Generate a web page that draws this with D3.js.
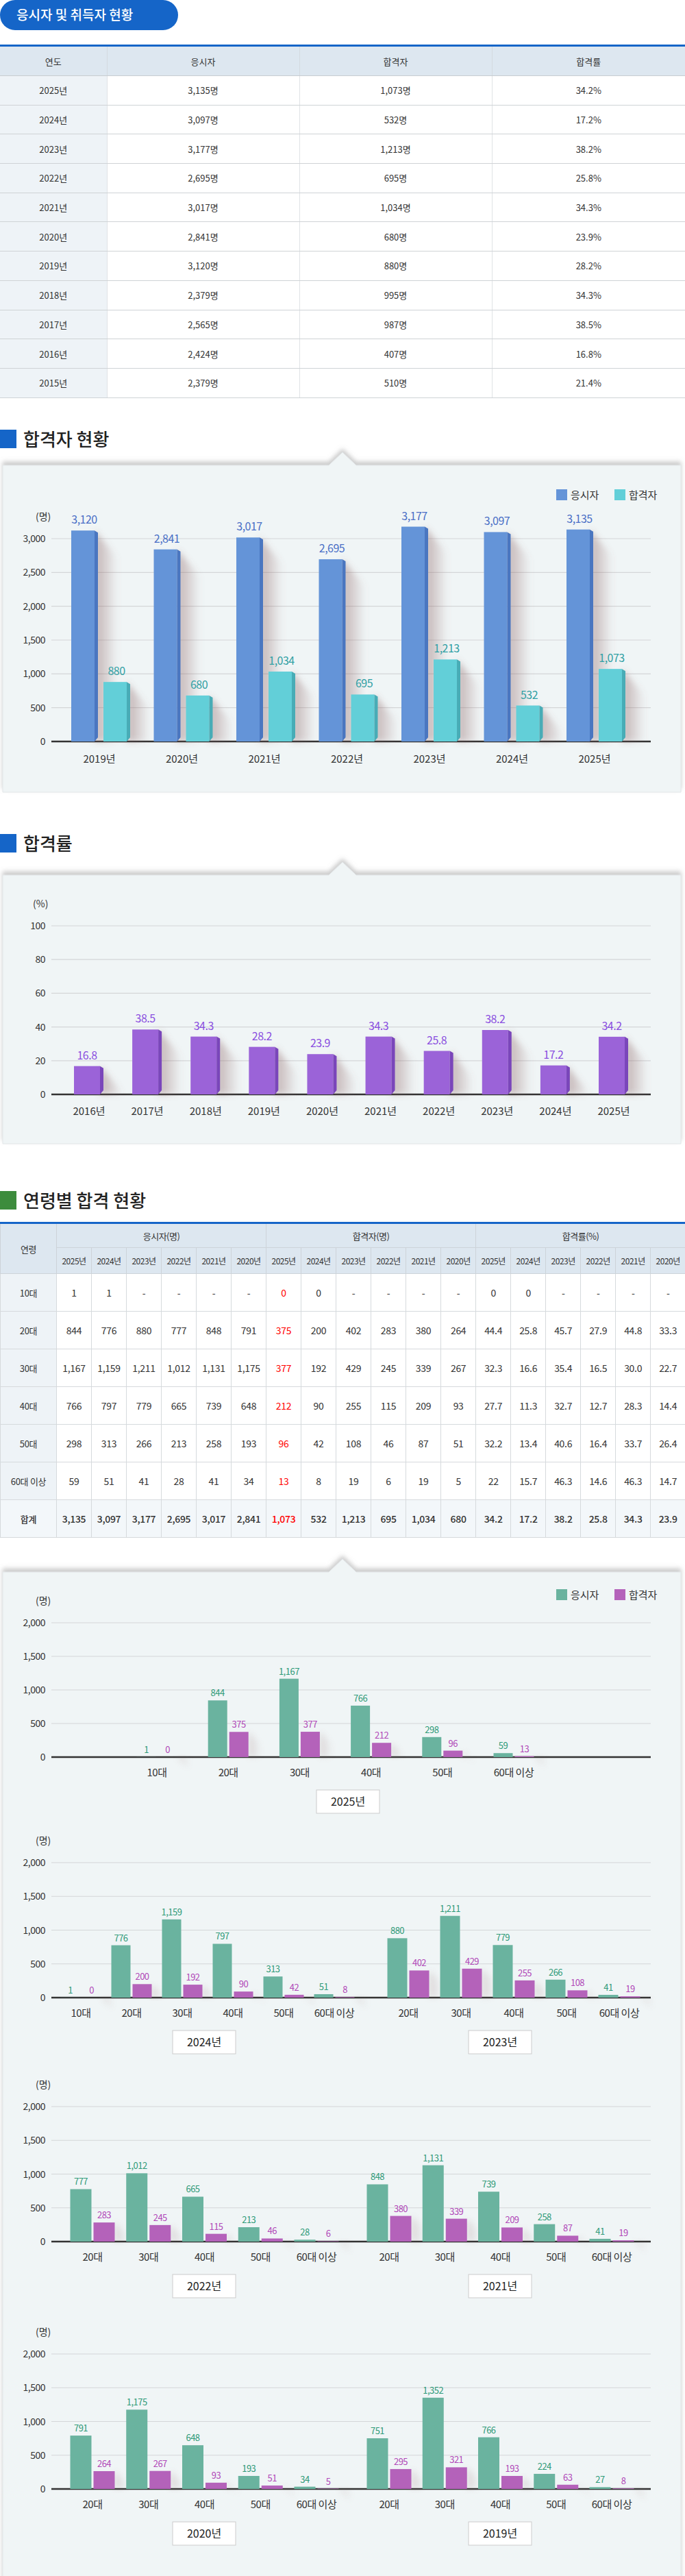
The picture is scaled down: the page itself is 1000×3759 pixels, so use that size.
<!DOCTYPE html>
<html><head><meta charset="utf-8">
<script src="https://cdn.jsdelivr.net/npm/d3@7/dist/d3.min.js"></script>
<style>
body{margin:0;background:#fff;font-family:"Noto Sans CJK KR","Noto Sans",sans-serif;}
#wrap{position:relative;width:1000px;height:3759px;overflow:hidden;}
svg{position:absolute;left:0;top:0;}
table{position:absolute;left:0;border-collapse:collapse;table-layout:fixed;color:#333;}
td,th{text-align:center;font-weight:400;padding:0;}
#t1{top:65px;width:1000px;border-top:3px solid #1565c8;}
#t1 th{background:#dde7f0;height:42px;font-size:13px;border-bottom:1px solid #c8ccd0;border-left:1px solid #d4dae0;}
#t1 td{height:41.7px;font-size:13px;border-bottom:1px solid #cfd3d6;border-left:1px solid #e0e3e6;}
#t1 td:first-child{background:#eef3f7;border-left:none}
#t1 th:first-child{border-left:none}
#t2{top:1783px;width:1000px;border-top:3px solid #1565c8;}
#t2 th{background:#dde7f0;font-size:12px;border:1px solid #cdd3d9;letter-spacing:-0.5px}
#t2 td{height:54px;font-size:14px;border:1px solid #d6dadd;letter-spacing:-0.3px}
#t2 td.age{background:#eef3f7;font-size:13px}
#t2 tr.tot td{background:#f3f7fa;font-weight:500}
#t2 td.red{color:#f00}
</style></head><body><div id="wrap"></div>
<script>
// ---------- DATA ----------
const t1Years=["2025년","2024년","2023년","2022년","2021년","2020년","2019년","2018년","2017년","2016년","2015년"];
const t1Appl=[3135,3097,3177,2695,3017,2841,3120,2379,2565,2424,2379];
const t1Pass=[1073,532,1213,695,1034,680,880,995,987,407,510];
const t1Rate=["34.2%","17.2%","38.2%","25.8%","34.3%","23.9%","28.2%","34.3%","38.5%","16.8%","21.4%"];

const c1Years=["2019년","2020년","2021년","2022년","2023년","2024년","2025년"];
const c1Appl=[3120,2841,3017,2695,3177,3097,3135];
const c1Pass=[880,680,1034,695,1213,532,1073];
const c1Ticks=[0,500,1000,1500,2000,2500,3000];

const rateYears=["2016년","2017년","2018년","2019년","2020년","2021년","2022년","2023년","2024년","2025년"];
const rateVals=[16.8,38.5,34.3,28.2,23.9,34.3,25.8,38.2,17.2,34.2];
const rateTicks=[0,20,40,60,80,100];

const ages=["10대","20대","30대","40대","50대","60대 이상"];
const ageYears=["2025년","2024년","2023년","2022년","2021년","2020년"];
const ageAppl=[[1,1,null,null,null,null],[844,776,880,777,848,791],[1167,1159,1211,1012,1131,1175],[766,797,779,665,739,648],[298,313,266,213,258,193],[59,51,41,28,41,34]];
const agePass=[[0,0,null,null,null,null],[375,200,402,283,380,264],[377,192,429,245,339,267],[212,90,255,115,209,93],[96,42,108,46,87,51],[13,8,19,6,19,5]];
const ageRate=[["0","0",null,null,null,null],["44.4","25.8","45.7","27.9","44.8","33.3"],["32.3","16.6","35.4","16.5","30.0","22.7"],["27.7","11.3","32.7","12.7","28.3","14.4"],["32.2","13.4","40.6","16.4","33.7","26.4"],["22","15.7","46.3","14.6","46.3","14.7"]];
const totAppl=[3135,3097,3177,2695,3017,2841];
const totPass=[1073,532,1213,695,1034,680];
const totRate=["34.2","17.2","38.2","25.8","34.3","23.9"];
const ages2019=["20대","30대","40대","50대","60대 이상"];
const appl2019=[751,1352,766,224,27];
const pass2019=[295,321,193,63,8];
const ageTicks=[0,500,1000,1500,2000];

const fmt=d3.format(",");
const wrap=d3.select("#wrap");
const svg=wrap.append("svg").attr("width",1000).attr("height",3759);
const defs=svg.append("defs");
const f=defs.append("filter").attr("id","ps").attr("x","-10%").attr("y","-50%").attr("width","120%").attr("height","200%");
f.append("feDropShadow").attr("dx",0).attr("dy",-5).attr("stdDeviation",3).attr("flood-color","#9a9a9a").attr("flood-opacity",0.5);
const bl=defs.append("filter").attr("id","bl").attr("x","-50%").attr("y","-20%").attr("width","200%").attr("height","140%");
bl.append("feGaussianBlur").attr("stdDeviation",5);
const lg=defs.append("linearGradient").attr("id","sg").attr("x1",0).attr("x2",1).attr("y1",0).attr("y2",0);
lg.append("stop").attr("offset",0).attr("stop-color","#8a6060").attr("stop-opacity",0.45);
lg.append("stop").attr("offset",1).attr("stop-color","#8a6060").attr("stop-opacity",0);

// ---------- Table 1 ----------
svg.append("rect").attr("x",0).attr("y",0).attr("width",260).attr("height",44).attr("rx",22).attr("fill","#1565c8");
svg.append("text").attr("x",24).attr("y",29).attr("fill","#fff").attr("font-size",19).attr("font-weight",500).text("응시자 및 취득자 현황");
const t1=wrap.append("table").attr("id","t1");
const cg=t1.append("colgroup");[156,281,281,282].forEach(w=>cg.append("col").style("width",w+"px"));
t1.append("tr").selectAll("th").data(["연도","응시자","합격자","합격률"]).join("th").text(d=>d);
t1Years.forEach((y,i)=>{const tr=t1.append("tr");
 [y,fmt(t1Appl[i])+"명",fmt(t1Pass[i])+"명",t1Rate[i]].forEach(v=>tr.append("td").text(v));});

// ---------- helpers ----------
function sectionTitle(y,text,color){
 svg.append("rect").attr("x",0).attr("y",y).attr("width",24).attr("height",27).attr("fill",color);
 svg.append("text").attr("x",34).attr("y",y+24).attr("font-size",26).attr("font-weight",500).attr("fill","#222").text(text);}
function panel(top,bottom){
 const p=`M4,${top} L480,${top} L500,${top-19} L520,${top} L994,${top} L994,${bottom} L4,${bottom} Z`;
 svg.append("path").attr("d",p).attr("fill","#f0f5f6").attr("stroke","#e2e6e8").attr("filter","url(#ps)");}
function yAxis(y,ticks,unit){
 const g=svg.append("g");
 ticks.forEach(t=>{
  g.append("line").attr("x1",75).attr("x2",950).attr("y1",y(t)).attr("y2",y(t)).attr("stroke",t===0?"#333":"#d4d6d8").attr("stroke-width",t===0?2.5:1.2);
  g.append("text").attr("x",66).attr("y",y(t)+5).attr("text-anchor","end").attr("font-size",14).attr("fill","#333").attr("letter-spacing","-0.5").text(fmt(t));});
 g.append("text").attr("x",unit==="(%)"?48:52).attr("y",y(ticks[ticks.length-1])-27).attr("font-size",14).attr("fill","#333").text(unit);}
function bar3d(g,x,w,yt,yb,front,side){
 if(yb-yt<1)return;
 g.append("path").attr("d",`M${x+w},${yt} L${x+w+34},${yt+40} L${x+w+34},${yb} L${x+w},${yb}Z`).attr("fill","url(#sg)").attr("filter","url(#bl)");
 g.append("rect").attr("x",x).attr("y",yt).attr("width",w).attr("height",yb-yt).attr("fill",front);
 g.append("path").attr("d",`M${x+w},${yt} L${x+w+5},${yt+3} L${x+w+5},${yb-6} L${x+w},${yb}Z`).attr("fill",side);}
function legend(y,c1,c2){
 [[812,c1,"응시자"],[897,c2,"합격자"]].forEach(([x,c,t])=>{
  svg.append("rect").attr("x",x).attr("y",y-8).attr("width",16).attr("height",16).attr("fill",c);
  svg.append("text").attr("x",x+21).attr("y",y+6).attr("font-size",15).attr("fill","#333").text(t);});}

// ---------- Chart 1 ----------
sectionTitle(627,"합격자 현황","#1565c8");
panel(679,1156);
legend(722,"#6494d8","#62cfd8");
{const y=d3.scaleLinear().domain([0,3000]).range([1082,786]);
 yAxis(y,c1Ticks,"(명)");
 const x=d3.scalePoint().domain(c1Years).range([147,870]);
 const g=svg.append("g");
 c1Years.forEach((yr,i)=>{const c=x(yr);
  bar3d(g,c-43,34,y(c1Appl[i]),y(0),"#6494d8","#4a76c0");
  bar3d(g,c+4,34,y(c1Pass[i]),y(0),"#62cfd8","#48acb6");
  g.append("text").attr("x",c-24).attr("y",y(c1Appl[i])-10).attr("text-anchor","middle").attr("font-size",16).attr("fill","#4a6fc6").attr("letter-spacing","-0.5").text(fmt(c1Appl[i]));
  g.append("text").attr("x",c+23).attr("y",y(c1Pass[i])-10).attr("text-anchor","middle").attr("font-size",16).attr("fill","#30a0a4").attr("letter-spacing","-0.5").text(fmt(c1Pass[i]));
  g.append("text").attr("x",c-2).attr("y",1113).attr("text-anchor","middle").attr("font-size",15).attr("fill","#333").text(yr);});}

// ---------- Chart 2 ----------
sectionTitle(1217,"합격률","#1565c8");
panel(1277,1669);
{const y=d3.scaleLinear().domain([0,100]).range([1597,1351]);
 yAxis(y,rateTicks,"(%)");
 const x=d3.scalePoint().domain(rateYears).range([129,895]);
 const g=svg.append("g");
 rateYears.forEach((yr,i)=>{const c=x(yr);
  bar3d(g,c-21,38,y(rateVals[i]),y(0),"#9b63d8","#7a46ba");
  g.append("text").attr("x",c-2).attr("y",y(rateVals[i])-10).attr("text-anchor","middle").attr("font-size",16).attr("fill","#8a4ee0").attr("letter-spacing","-0.5").text(rateVals[i]);
  g.append("text").attr("x",c+1).attr("y",1627).attr("text-anchor","middle").attr("font-size",15).attr("fill","#333").text(yr);});}

// ---------- Table 2 ----------
sectionTitle(1738,"연령별 합격 현황","#3d8c3d");
{const t=wrap.append("table").attr("id","t2");
 const cg=t.append("colgroup");cg.append("col").style("width","82px");for(let i=0;i<18;i++)cg.append("col").style("width","51px");
 const r1=t.append("tr");
 r1.append("th").attr("rowspan",2).style("font-size","13px").text("연령");
 ["응시자(명)","합격자(명)","합격률(%)"].forEach(h=>r1.append("th").attr("colspan",6).style("height","34px").style("font-size","13px").text(h));
 const r2=t.append("tr");
 for(let k=0;k<3;k++)ageYears.forEach(y=>r2.append("th").style("height","37px").text(y));
 ages.forEach((a,i)=>{const tr=t.append("tr");tr.append("td").attr("class","age").text(a);
  ageAppl[i].forEach(v=>tr.append("td").text(v==null?"-":fmt(v)));
  agePass[i].forEach((v,j)=>tr.append("td").attr("class",j===0?"red":null).text(v==null?"-":fmt(v)));
  ageRate[i].forEach(v=>tr.append("td").text(v==null?"-":v));});
 const tr=t.append("tr").attr("class","tot");tr.append("td").attr("class","age").text("합계");
 totAppl.forEach(v=>tr.append("td").text(fmt(v)));
 totPass.forEach((v,j)=>tr.append("td").attr("class",j===0?"red":null).text(fmt(v)));
 totRate.forEach(v=>tr.append("td").text(v));}

// ---------- Age charts ----------
panel(2294,3775);
legend(2327,"#6ab39f","#b462ba");
function ageGroup(y,cats,appl,pass,range,w,year,boxX){
 const x=d3.scalePoint().domain(cats).range(range);
 const g=svg.append("g");
 cats.forEach((c,i)=>{const cx=x(c);
  const h=y(0);
  g.append("path").attr("d",`M${cx+w+1.5},${y(pass[i])} L${cx+w+20},${y(pass[i])+20} L${cx+w+20},${h} L${cx+w+1.5},${h}Z`).attr("fill","url(#sg)").attr("filter","url(#bl)").attr("opacity",0.5);
  g.append("rect").attr("x",cx-w-1.5).attr("y",y(appl[i])).attr("width",w).attr("height",h-y(appl[i])).attr("fill","#6ab39f");
  g.append("rect").attr("x",cx+1.5).attr("y",y(pass[i])).attr("width",w).attr("height",h-y(pass[i])).attr("fill","#b462ba");
  g.append("text").attr("x",cx-w/2-1.5).attr("y",y(appl[i])-6).attr("text-anchor","middle").attr("font-size",13).attr("fill","#2f9a78").attr("letter-spacing","-0.5").text(fmt(appl[i]));
  g.append("text").attr("x",cx+w/2+1.5).attr("y",y(pass[i])-6).attr("text-anchor","middle").attr("font-size",13).attr("fill","#b048b8").attr("letter-spacing","-0.5").text(fmt(pass[i]));
  g.append("text").attr("x",cx).attr("y",h+28).attr("text-anchor","middle").attr("font-size",15).attr("fill","#333").attr("letter-spacing","-0.5").text(c);});
 g.append("rect").attr("x",boxX-46).attr("y",y(0)+48).attr("width",92).attr("height",34).attr("fill","#fff").attr("stroke","#ccc");
 g.append("text").attr("x",boxX).attr("y",y(0)+71).attr("text-anchor","middle").attr("font-size",16).attr("fill","#222").text(year);}
const col=(arr,j)=>arr.map(r=>r[j]);
// row A: 2025
{const y=d3.scaleLinear().domain([0,2000]).range([2564,2368]);yAxis(y,ageTicks,"(명)");
 ageGroup(y,ages,col(ageAppl,0),col(agePass,0),[229,750],28,"2025년",508);}
// row B: 2024 / 2023
{const y=d3.scaleLinear().domain([0,2000]).range([2915,2718]);yAxis(y,ageTicks,"(명)");
 ageGroup(y,ages,col(ageAppl,1),col(agePass,1),[118,488],28,"2024년",298);
 ageGroup(y,ages.slice(1),col(ageAppl,2).slice(1),col(agePass,2).slice(1),[596,904],29,"2023년",730);}
// row C: 2022 / 2021
{const y=d3.scaleLinear().domain([0,2000]).range([3271,3074]);yAxis(y,ageTicks,"(명)");
 ageGroup(y,ages.slice(1),col(ageAppl,3).slice(1),col(agePass,3).slice(1),[135,462],31,"2022년",298);
 ageGroup(y,ages.slice(1),col(ageAppl,4).slice(1),col(agePass,4).slice(1),[568,893],31,"2021년",730);}
// row D: 2020 / 2019
{const y=d3.scaleLinear().domain([0,2000]).range([3632,3435]);yAxis(y,ageTicks,"(명)");
 ageGroup(y,ages.slice(1),col(ageAppl,5).slice(1),col(agePass,5).slice(1),[135,462],31,"2020년",298);
 ageGroup(y,ages2019,appl2019,pass2019,[568,893],31,"2019년",730);}
</script></body></html>
